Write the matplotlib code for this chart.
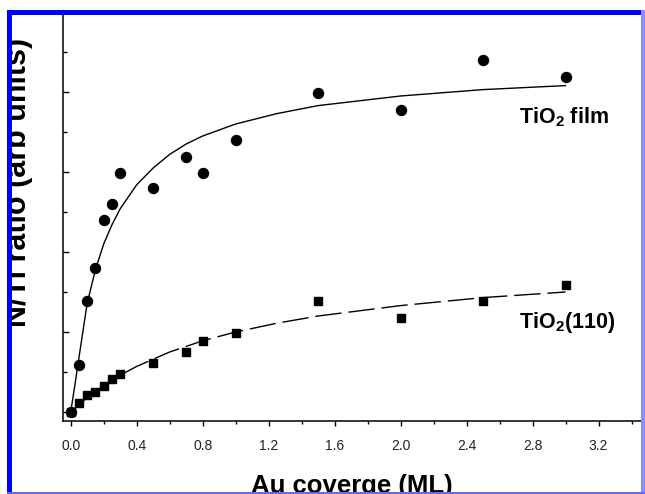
import matplotlib
matplotlib.use("Agg")
import matplotlib.pyplot as plt
from matplotlib.patches import Rectangle
from matplotlib.ticker import MultipleLocator

plt.rcParams['font.family'] = ['Liberation Sans', 'DejaVu Sans']
plt.rcParams['mathtext.fontset'] = 'custom'
plt.rcParams['mathtext.rm'] = 'Liberation Sans'
plt.rcParams['mathtext.bf'] = 'Liberation Sans:bold'
plt.rcParams['mathtext.it'] = 'Liberation Sans:italic'

# ---- data (arb units) ----
film_x = [0.0, 0.05, 0.1, 0.15, 0.2, 0.25, 0.3, 0.5, 0.7, 0.8, 1.0, 1.5, 2.0, 2.5, 3.0]
film_y = [0.0, 0.59, 1.39, 1.80, 2.40, 2.60, 2.99, 2.80, 3.19, 2.99, 3.40, 3.99, 3.78, 4.40, 4.19]

r110_x = [0.0, 0.05, 0.1, 0.15, 0.2, 0.25, 0.3, 0.5, 0.7, 0.8, 1.0, 1.5, 2.0, 2.5, 3.0]
r110_y = [0.0, 0.11, 0.21, 0.25, 0.33, 0.41, 0.48, 0.61, 0.75, 0.89, 0.99, 1.39, 1.18, 1.39, 1.59]

film_fit_x = [0.0, 0.025, 0.05, 0.1, 0.15, 0.2, 0.25, 0.3, 0.4, 0.5, 0.6, 0.7, 0.8,
              1.0, 1.25, 1.5, 2.0, 2.5, 3.0]
film_fit_y = [0.0, 0.33, 0.68, 1.36, 1.78, 2.10, 2.34, 2.54, 2.84, 3.05, 3.22, 3.35, 3.45,
              3.60, 3.73, 3.83, 3.95, 4.03, 4.08]

r110_fit_x = [0.0, 0.1, 0.2, 0.3, 0.4, 0.5, 0.6, 0.7, 0.8, 1.0, 1.25, 1.5, 2.0, 2.5, 3.0]
r110_fit_y = [0.0, 0.18, 0.33, 0.46, 0.57, 0.66, 0.75, 0.82, 0.89, 1.0, 1.11, 1.20,
              1.33, 1.43, 1.50]

x_ticks = [0.0, 0.4, 0.8, 1.2, 1.6, 2.0, 2.4, 2.8, 3.2]
x_ticklabels = ['0.0', '0.4', '0.8', '1.2', '1.6', '2.0', '2.4', '2.8', '3.2']

W, H = 645, 494
fig = plt.figure(figsize=(W / 100, H / 100), dpi=100)
ax = fig.add_axes([63 / W, 73 / H, (648 - 63) / W, 409 / H])
ax.set_xlim(-0.0467, 3.5)
ax.set_ylim(-0.1125, 5.0)

ax.plot(film_fit_x, film_fit_y, color='black', lw=1.0)
ax.plot(r110_fit_x, r110_fit_y, color='black', lw=1.0, dashes=(19, 5))
ax.plot(film_x, film_y, 'o', color='black', ms=7.2, zorder=3)
ax.plot(r110_x, r110_y, 's', color='black', ms=6.0, zorder=3)

ax.spines['top'].set_visible(False)
ax.spines['right'].set_visible(False)
for s in ('left', 'bottom'):
    ax.spines[s].set_linewidth(1.1)

ax.set_xticks(x_ticks)
ax.set_xticklabels(x_ticklabels)
ax.xaxis.set_minor_locator(MultipleLocator(0.2))
ax.yaxis.set_major_locator(MultipleLocator(1.0))
ax.yaxis.set_minor_locator(MultipleLocator(0.5))
ax.tick_params(axis='x', which='major', direction='out', length=3.6, width=1.0,
               labelsize=10, pad=9, labelcolor='#222222')
ax.tick_params(axis='x', which='minor', direction='out', length=2.5, width=1.0)
ax.tick_params(axis='y', which='major', direction='in', length=4.3, width=1.0,
               labelleft=False)
ax.tick_params(axis='y', which='minor', direction='in', length=2.9, width=1.0)

ax.text(2.72, 3.61, r'TiO$_{\mathbf{2}}$ film', fontsize=15.5, fontweight='bold',
        ha='left', va='baseline')
ax.text(2.72, 1.05, r'TiO$_{\mathbf{2}}$(110)', fontsize=15.5, fontweight='bold',
        ha='left', va='baseline')

fig.text(352 / W, 1 - 485.5 / H, 'Au coverge (ML)', fontsize=18.5, fontweight='bold',
         ha='center', va='center')
fig.text(33.5 / W, 1 - 182 / H, 'N/Ti ratio (arb units)', fontsize=22,
         fontweight='bold', rotation=90, ha='right', va='center')

# white margins and blue frame (drawn over the cropped labels)
white = '#ffffff'
blue = '#0000ff'
frames = [
    ((0, 0), 7 / W, 1.0, white),
    ((0, 1 - 10 / H), 1.0, 10 / H, white),
    ((7 / W, 0), 5 / W, 1 - 10 / H, blue),
    ((7 / W, 1 - 15 / H), 1 - 7 / W, 5 / H, blue),
    ((641 / W, 0), 4 / W, 1 - 10 / H, '#8c8cff'),
    ((7 / W, 0), 1 - 7 / W, 2 / H, '#6666ff'),
]
for xy, w, h, c in frames:
    fig.add_artist(Rectangle(xy, w, h, transform=fig.transFigure, facecolor=c,
                             edgecolor='none', zorder=20))

fig.savefig('out.png', dpi=100)
